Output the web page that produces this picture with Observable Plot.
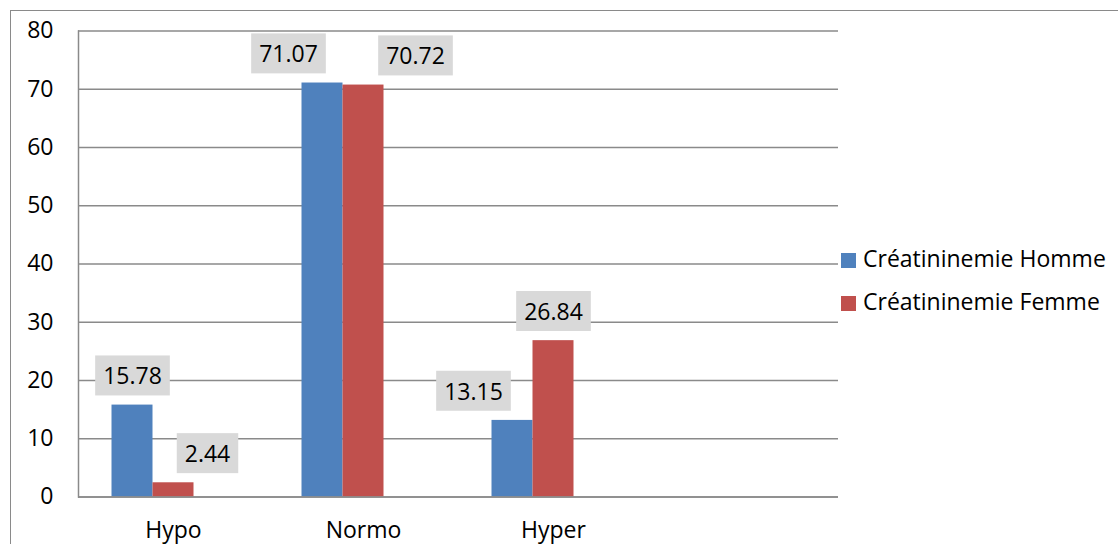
<!DOCTYPE html>
<html><head><meta charset="utf-8">
<script src="https://cdn.jsdelivr.net/npm/d3@7"></script>
<script src="https://cdn.jsdelivr.net/npm/@observablehq/plot@0.6"></script>
<style>
body{margin:0;background:#fff;font-family:"Open Sans",sans-serif;}
#wrap{position:relative;width:1118px;height:544px;overflow:hidden;background:#fff;}
#border{position:absolute;left:10px;top:10px;width:1200px;height:600px;border-top:1.5px solid #8a8a8a;border-left:1.5px solid #8a8a8a;}
#wrap svg{position:absolute;left:0;top:0;}
.leg{position:absolute;left:841px;font-size:23px;line-height:24px;color:#000;white-space:nowrap;}
.leg span{display:inline-block;width:15px;height:15px;margin-right:7px;vertical-align:-1px;}
</style>
</head><body>
<div id="wrap"><div id="border"></div></div>
<script>
const categories = ["Hypo", "Normo", "Hyper"];
const series = ["Créatininemie Homme", "Créatininemie Femme"];
const homme = [15.78, 71.07, 13.15];
const femme = [2.44, 70.72, 26.84];
const yTicks = [0, 10, 20, 30, 40, 50, 60, 70, 80];
const colors = ["#4f81bd", "#c0504d"];

// table built from the arrays above
const rows = categories.flatMap((c, i) => [
  {cat: c, s: series[0], v: homme[i]},
  {cat: c, s: series[1], v: femme[i]}
]);
// label layout nudges (px), in row order
const labelNudge = [0, 34, -34, 52, -39, 0];

const fxDomain = [...categories, " "];   // empty 4th category slot
const xDomain = [...series, "·"];        // empty 3rd series slot
const grey = "#8a8a8a";
const gridRows = fxDomain.flatMap(c => yTicks.map(t => ({cat: c, t})));

const plot = Plot.plot({
  width: 1118, height: 544,
  marginLeft: 76.5, marginRight: 279, marginTop: 30.5, marginBottom: 47.5,
  style: {fontFamily: '"Open Sans", sans-serif', fontSize: "23px", color: "#000", background: "transparent"},
  fx: {domain: fxDomain, padding: 0, label: null},
  x: {domain: xDomain, paddingInner: 0, paddingOuter: 0.77, axis: null},
  y: {domain: [0, 80], label: null},
  color: {domain: series, range: colors},
  marks: [
    Plot.ruleY(gridRows, {fx: "cat", y: "t", stroke: grey, strokeWidth: 1.5}),
    Plot.axisY(yTicks, {tickSize: 0, tickPadding: 25, fontSize: 23, label: null, tickFormat: d => d}),
    Plot.axisFx({anchor: "bottom", tickSize: 0, tickPadding: 25, fontSize: 23, label: null}),
    Plot.barY(rows, {fx: "cat", x: "s", y: "v", fill: "s", inset: 0}),
    Plot.ruleY(gridRows.filter(d => d.t === 0), {fx: "cat", y: "t", stroke: grey, strokeWidth: 1.5}),
    Plot.frame({anchor: "left", facetAnchor: "left", stroke: grey, strokeWidth: 1.5}),
    ...rows.map((r, i) => Plot.text([r], {
      fx: "cat", x: "s", y: "v", text: d => d.v.toFixed(2),
      dy: -28, dx: labelNudge[i], fontSize: 23, lineAnchor: "middle", fill: "#000"
    }))
  ]
});
const wrap = document.getElementById("wrap");
wrap.append(plot);

// grey boxes behind the value labels
plot.querySelectorAll('g[aria-label="text"] text').forEach(t => {
  const b = t.getBBox();
  const w = b.width + 16;
  const r = document.createElementNS("http://www.w3.org/2000/svg", "rect");
  r.setAttribute("x", b.x + b.width / 2 - w / 2);
  r.setAttribute("y", b.y + b.height / 2 - 20);
  r.setAttribute("width", w);
  r.setAttribute("height", 40);
  r.setAttribute("fill", "#d9d9d9");
  if (t.getAttribute("transform")) r.setAttribute("transform", t.getAttribute("transform"));
  t.parentNode.insertBefore(r, t);
});

// legend
series.forEach((s, i) => {
  const d = document.createElement("div");
  d.className = "leg";
  d.style.top = (246 + i * 42.7) + "px";
  d.innerHTML = `<span style="background:${colors[i]}"></span>${s}`;
  wrap.append(d);
});
</script>
</body></html>
